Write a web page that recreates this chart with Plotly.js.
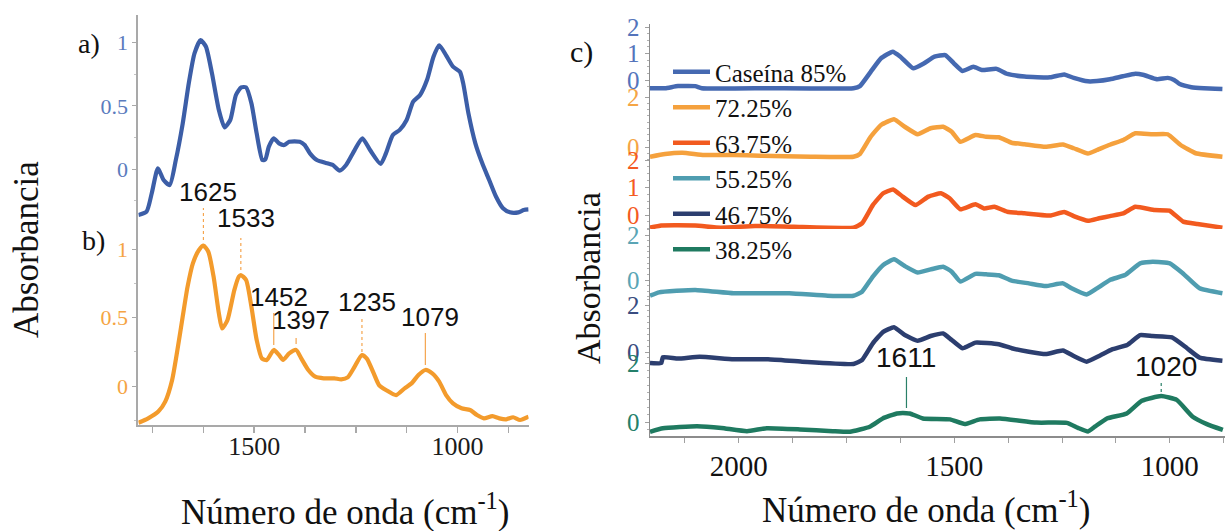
<!DOCTYPE html>
<html>
<head>
<meta charset="utf-8">
<script src="https://cdn.plot.ly/plotly-3.0.1.min.js"></script>
<style>
  html, body { margin: 0; padding: 0; background: #ffffff; }
  #chart { width: 1225px; height: 531px; }
</style>
</head>
<body>
<div id="chart"></div>
<script>
// ---------- FTIR spectra: panel a) and b) ----------
const wnA = [1785,1765,1752,1737,1723,1708,1693,1676,1661,1647,1632,1619,1604,1587,1573,1559,1545,1532,1520,1507,
  1494,1480,1473,1464,1452,1439,1426,1414,1388,1376,1363,1346,1320,1307,1290,1274,1253,1234,1215,1189,
  1176,1159,1142,1125,1109,1092,1075,1059,1045,1028,1011,994,986,973,956,939,922,905,888,871,850,837,825];
const absA = [-0.364,-0.338,-0.19,0.005,-0.087,-0.127,0.07,0.36,0.68,0.916,1.02,0.97,0.757,0.467,0.33,0.388,0.586,0.646,0.646,0.52,
  0.282,0.071,0.075,0.177,0.243,0.203,0.19,0.216,0.216,0.19,0.124,0.071,0.045,0.032,-0.013,0.032,0.15,0.243,0.15,0.04,
  0.124,0.27,0.31,0.388,0.533,0.586,0.704,0.889,0.98,0.90,0.81,0.77,0.68,0.44,0.203,0.045,-0.087,-0.22,-0.311,-0.343,-0.343,-0.325,-0.32];

const wnB = [1785,1761,1736,1719,1702,1689,1676,1664,1651,1636,1625,1613,1600,1587,1579,1566,1549,1538,1533,1520,
  1507,1494,1481,1469,1452,1439,1429,1414,1397,1384,1367,1350,1329,1303,1286,1270,1253,1235,1223,1206,
  1193,1176,1151,1130,1113,1096,1079,1062,1045,1028,1011,990,969,952,935,914,897,880,863,846,825];
const absB = [-0.268,-0.236,-0.187,-0.114,0.044,0.263,0.506,0.725,0.895,0.993,1.024,0.98,0.798,0.53,0.42,0.48,0.70,0.798,0.81,0.774,
  0.579,0.336,0.20,0.19,0.263,0.226,0.19,0.238,0.263,0.20,0.117,0.068,0.056,0.056,0.049,0.063,0.141,0.226,0.20,0.092,
  0.007,-0.029,-0.066,-0.017,0.019,0.08,0.117,0.092,0.032,-0.066,-0.127,-0.163,-0.175,-0.212,-0.236,-0.22,-0.236,-0.243,-0.228,-0.248,-0.224];

const peaksB = [1625, 1533, 1452, 1397, 1235, 1079];

// ---------- panel c): blends ----------
const seriesNames = ['Caseína 85%', '72.25%', '63.75%', '55.25%', '46.75%', '38.25%'];

const wn85 = [2206,2171,2141,2101,2086,1932,1734,1719,1694,1670,1643,1625,1595,1570,1546,1521,1501,1481,1456,1436,
  1402,1377,1337,1278,1245,1223,1190,1169,1139,1109,1080,1060,1030,1005,990,977,950,921,878];
const abs85 = [-0.31,-0.31,-0.23,-0.23,-0.31,-0.31,-0.31,-0.23,0.31,0.82,1.07,0.88,0.44,0.63,0.88,0.94,0.63,0.34,0.50,0.38,
  0.42,0.23,0.13,0.10,0.21,0.08,-0.05,-0.04,0.03,0.14,0.24,0.19,0.03,0.08,0.0,-0.15,-0.27,-0.31,-0.34];

const wn7225 = [2206,2171,2131,2081,2012,1952,1833,1734,1719,1694,1670,1640,1615,1585,1555,1526,1506,1486,1451,1426,
  1397,1367,1337,1288,1248,1223,1190,1169,1139,1108,1080,1040,1005,975,940,878];
const abs7225 = [-0.39,-0.28,-0.23,-0.32,-0.32,-0.35,-0.39,-0.39,-0.28,0.41,0.88,1.11,0.81,0.51,0.75,0.81,0.61,0.21,0.48,0.41,
  0.39,0.17,0.11,0.01,0.10,-0.05,-0.26,-0.12,0.09,0.28,0.55,0.51,0.51,0.08,-0.25,-0.39];

const wn6375 = [2206,2180,2101,2042,1962,1873,1734,1714,1689,1665,1642,1620,1590,1560,1531,1511,1486,1451,1431,1407,
  1377,1337,1278,1245,1223,1190,1164,1139,1108,1080,1035,1001,969,936,878];
const abs6375 = [-0.46,-0.38,-0.38,-0.46,-0.40,-0.43,-0.46,-0.30,0.36,0.79,0.93,0.67,0.36,0.67,0.79,0.61,0.21,0.39,0.24,0.30,
  0.12,0.06,-0.02,0.11,-0.04,-0.21,-0.12,-0.04,0.06,0.30,0.18,0.16,-0.24,-0.33,-0.46];

const wn5525 = [2206,2185,2101,2012,1883,1794,1734,1714,1689,1665,1640,1615,1585,1555,1526,1506,1486,1451,1426,1397,
  1367,1327,1288,1248,1228,1193,1169,1139,1104,1069,1040,1000,970,931,878];
const abs5525 = [-0.70,-0.55,-0.44,-0.59,-0.59,-0.70,-0.70,-0.52,0.15,0.67,0.92,0.62,0.33,0.47,0.59,0.37,-0.07,0.27,0.25,0.21,
  -0.03,-0.15,-0.27,-0.15,-0.37,-0.64,-0.37,0.0,0.22,0.74,0.81,0.74,0.30,-0.37,-0.59];

const wn4675 = [2206,2180,2176,2141,2091,2012,1932,1853,1734,1714,1689,1665,1640,1615,1585,1555,1526,1506,1481,1451,
  1397,1367,1327,1288,1248,1223,1193,1164,1134,1099,1069,1040,995,960,931,878];
const abs4675 = [-0.47,-0.47,-0.22,-0.28,-0.20,-0.31,-0.31,-0.41,-0.51,-0.34,0.37,0.86,1.05,0.72,0.48,0.68,0.79,0.51,0.16,0.40,
  0.33,0.16,0.01,-0.09,0.06,-0.17,-0.41,-0.17,0.11,0.30,0.72,0.68,0.62,0.16,-0.24,-0.37];

const wn3825 = [2206,2176,2097,2040,1981,1935,1858,1782,1742,1696,1666,1633,1611,1603,1573,1510,1476,1441,1394,1309,
  1239,1213,1190,1174,1146,1100,1065,1020,984,947,914,877];
const abs3825 = [-0.33,-0.21,-0.14,-0.20,-0.31,-0.21,-0.25,-0.31,-0.33,-0.16,0.12,0.29,0.30,0.29,0.12,0.09,-0.07,0.09,0.12,-0.02,
  -0.03,-0.20,-0.32,-0.16,0.12,0.29,0.72,0.88,0.75,0.18,-0.07,-0.27];

const peaksC = [1611, 1020];

// ---------- layout helpers (pixel geometry of the figure) ----------
const W = 1225, H = 531;
const fx = p => p / W;
const fy = p => 1 - p / H;
const dom = (top, bot) => [fy(bot), fy(top)];
const rng = (zero, k, top, bot) => [(zero - bot) / k, (zero - top) / k];

const SERIF = 'Liberation Serif, Times New Roman, serif';
const SANS = 'Liberation Sans, Arial, sans-serif';

const colA = '#3c5ea7', colB = '#f39b2c';
const colsC = ['#4569b1', '#f5a13d', '#f25a1f', '#4f9db0', '#2c3e6f', '#1f7a60'];
const tickColsC = ['#5474bb', '#f5a545', '#f45a22', '#5aa5b5', '#394c80', '#24806a'];
const xC = [wn85, wn7225, wn6375, wn5525, wn4675, wn3825];
const yC = [abs85, abs7225, abs6375, abs5525, abs4675, abs3825];

// vertical placement of the six stacked axes: [zero px, px per unit, top px, bottom px, tick values]
const stackC = [
  [80, 26.5, 24, 92, [0, 1, 2]],
  [147, 25, 92, 160, [0, 2]],
  [215, 27.5, 155, 229, [0, 1, 2]],
  [280, 22.5, 229, 299, [0, 2]],
  [352, 23.5, 299, 367, [0, 2]],
  [422, 29.5, 357, 436, [0, 2]]
];

const traces = [
  { x: wnA, y: absA, xaxis: 'x', yaxis: 'y', mode: 'lines', showlegend: false, hoverinfo: 'skip',
    line: { color: colA, width: 4.2, shape: 'spline', smoothing: 0.6 } },
  { x: wnB, y: absB, xaxis: 'x', yaxis: 'y2', mode: 'lines', showlegend: false, hoverinfo: 'skip',
    line: { color: colB, width: 4.2, shape: 'spline', smoothing: 0.6 } }
];
seriesNames.forEach((name, i) => {
  traces.push({
    x: xC[i], y: yC[i], name: name, legendgroup: name,
    xaxis: 'x2', yaxis: 'y' + (i + 3), mode: 'lines', hoverinfo: 'skip',
    line: { color: colsC[i], width: 4.5, shape: 'spline', smoothing: 0.4 }
  });
});

const axisLine = { showline: true, showgrid: false, zeroline: false, ticks: 'outside' };

const layout = {
  width: W, height: H,
  margin: { l: 0, r: 0, t: 0, b: 0 },
  paper_bgcolor: '#ffffff', plot_bgcolor: 'rgba(0,0,0,0)',
  showlegend: true,
  legend: {
    x: fx(668), xanchor: 'left', y: fy(49), yanchor: 'top',
    bgcolor: 'rgba(0,0,0,0)', borderwidth: 0, itemwidth: 37, tracegroupgap: 0,
    font: { family: SERIF, size: 25, color: '#111111' }
  },
  xaxis: Object.assign({}, axisLine, {
    domain: [fx(138.4), fx(528.6)], range: [1785, 825], anchor: 'y2',
    linecolor: '#a9a9a9', linewidth: 2, ticklen: 6, tickcolor: '#a9a9a9', tickwidth: 1.5,
    tickmode: 'array',
    tickvals: [1750, 1625, 1500, 1375, 1250, 1125, 1000, 875],
    ticktext: ['', '', '1500', '', '', '', '1000', ''],
    ticklabelstandoff: -9,
    tickfont: { family: SERIF, size: 26, color: '#1a1a1a' }
  }),
  yaxis: Object.assign({}, axisLine, {
    domain: dom(15, 217), range: rng(169, 126.3, 15, 217), anchor: 'x',
    linecolor: '#a9a9a9', linewidth: 2, ticklen: 4, tickcolor: '#a9a9a9',
    tickmode: 'array', tickvals: [0, 0.5, 1], ticktext: ['0', '0.5', '1'],
    tickfont: { family: SERIF, size: 22, color: '#5a7bbd' },
    minor: { tickmode: 'linear', tick0: 0, dtick: 0.25, ticks: 'outside', ticklen: 2, tickcolor: '#c4c4c4' }
  }),
  yaxis2: Object.assign({}, axisLine, {
    domain: dom(217, 425), range: rng(386, 137, 217, 425), anchor: 'x',
    linecolor: '#a9a9a9', linewidth: 2, ticklen: 4, tickcolor: '#a9a9a9',
    tickmode: 'array', tickvals: [0, 0.5, 1], ticktext: ['0', '0.5', '1'],
    tickfont: { family: SERIF, size: 22, color: '#f5a443' },
    minor: { tickmode: 'linear', tick0: 0, dtick: 0.25, ticks: 'outside', ticklen: 2, tickcolor: '#c4c4c4' }
  }),
  xaxis2: Object.assign({}, axisLine, {
    domain: [fx(650), 1], range: [2206, 872], anchor: 'y8',
    linecolor: '#8c8c8c', linewidth: 1.5, ticklen: 5, tickcolor: '#a0a0a0', tickwidth: 1,
    tickmode: 'array',
    tickvals: [2125, 2000, 1875, 1750, 1625, 1500, 1375, 1250, 1125, 1000, 875],
    ticktext: ['', '2000', '', '', '', '1500', '', '', '', '1000', ''],
    ticklabelstandoff: -1,
    tickfont: { family: SERIF, size: 29, color: '#111111' }
  }),
  shapes: [],
  annotations: []
};

stackC.forEach((s, i) => {
  const [zero, k, top, bot, vals] = s;
  layout['yaxis' + (i + 3)] = Object.assign({}, axisLine, {
    domain: dom(top, bot), range: rng(zero, k, top, bot), anchor: 'x2',
    linecolor: '#8c8c8c', linewidth: 1.5, ticklen: 4, tickcolor: '#a0a0a0',
    tickmode: 'array', tickvals: vals, ticktext: vals.map(String),
    tickfont: { family: SERIF, size: 25, color: tickColsC[i] },
    minor: { tickmode: 'linear', tick0: 0, dtick: 0.25, ticks: 'outside', ticklen: 2, tickcolor: '#b0b0b0' }
  });
});

// peak labels of spectrum b): [label centre y px, line top px, line bottom px, dash]
const peakStyleB = [
  [192, 208, 240, 'dot'],
  [218, 238, 270, 'dot'],
  [297, 313, 345, 'solid'],
  [320, 338, 344, 'solid'],
  [302, 317, 352, 'dot'],
  [317, 333, 365, 'solid']
];
peaksB.forEach((wn, i) => {
  const [ly, y0, y1, dash] = peakStyleB[i];
  layout.annotations.push({
    xref: 'x', yref: 'paper', x: wn, y: fy(ly), xanchor: 'center', yanchor: 'middle',
    xshift: 5, showarrow: false,
    text: String(wn), font: { family: SANS, size: 26, color: '#111111' }
  });
  layout.shapes.push({
    type: 'line', xref: 'x', yref: 'paper', x0: wn, x1: wn, y0: fy(y1), y1: fy(y0),
    line: { color: '#f5a54e', width: 1.2, dash: dash }
  });
});

const peakStyleC = [
  [357, 377, 408, 'solid', 0],
  [366, 383, 392, 'dot', 5]
];
peaksC.forEach((wn, i) => {
  const [ly, y0, y1, dash, shift] = peakStyleC[i];
  layout.annotations.push({
    xref: 'x2', yref: 'paper', x: wn, y: fy(ly), xanchor: 'center', yanchor: 'middle',
    xshift: shift, showarrow: false,
    text: String(wn), font: { family: SANS, size: 28, color: '#111111' }
  });
  layout.shapes.push({
    type: 'line', xref: 'x2', yref: 'paper', x0: wn, x1: wn, y0: fy(y1), y1: fy(y0),
    line: { color: '#2a8068', width: 1.2, dash: dash }
  });
});

// panel letters and axis titles
const textAnn = (x, y, text, size, angle) => ({
  xref: 'paper', yref: 'paper', x: fx(x), y: fy(y), xanchor: 'center', yanchor: 'middle',
  showarrow: false, text: text, textangle: angle || 0,
  font: { family: SERIF, size: size, color: '#111111' }
});
layout.annotations.push(
  textAnn(89, 44, 'a)', 28),
  textAnn(93, 240, 'b)', 28),
  textAnn(581, 52, 'c)', 30),
  textAnn(26, 250, 'Absorbancia', 35, -90),
  textAnn(588, 278, 'Absorbancia', 34, -90),
  textAnn(345, 509, 'Número de onda (cm<sup>-1</sup>)', 35),
  textAnn(926, 507, 'Número de onda (cm<sup>-1</sup>)', 35)
);

Plotly.newPlot('chart', traces, layout, { staticPlot: true, displayModeBar: false });
</script>
</body>
</html>
